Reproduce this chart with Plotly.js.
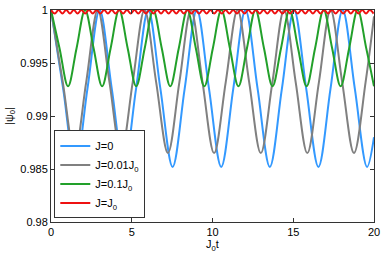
<!DOCTYPE html>
<html>
<head>
<meta charset="utf-8">
<script src="https://cdn.plot.ly/plotly-3.0.1.min.js"></script>
<style>html,body{margin:0;padding:0;background:#fff;}#chart{width:388px;height:259px;}</style>
</head>
<body>
<div id="chart"></div>
<script>
// Series names
const seriesNames = ['J=0', 'J=0.01J<sub>0</sub>', 'J=0.1J<sub>0</sub>', 'J=J<sub>0</sub>'];

// J=0 (blue)
const tBlue = [0, 0.75, 1.51, 2.26, 3.01, 3.76, 4.52, 5.27, 6.02, 6.77, 7.53, 8.28, 9.03, 9.78, 10.54, 11.29, 12.04, 12.79, 13.55, 14.30, 15.05, 15.80, 16.56, 17.31, 18.06, 18.81, 19.57, 20];
const psiBlue = [1, 0.9926, 0.9852, 0.9926, 1, 0.9926, 0.9852, 0.9926, 1, 0.9926, 0.9852, 0.9926, 1, 0.9926, 0.9852, 0.9926, 1, 0.9926, 0.9852, 0.9926, 1, 0.9926, 0.9852, 0.9926, 1, 0.9926, 0.9852, 0.9880];

// J=0.01J0 (gray)
const tGray = [0, 0.73, 1.46, 2.18, 2.90, 3.62, 4.34, 5.06, 5.79, 6.51, 7.24, 7.95, 8.67, 9.38, 10.10, 10.82, 11.55, 12.27, 12.99, 13.71, 14.43, 15.15, 15.87, 16.59, 17.31, 18.03, 18.76, 19.48, 20];
const psiGray = [1, 0.9932, 0.9865, 0.9932, 1, 0.9932, 0.9865, 0.9932, 1, 0.9932, 0.9865, 0.9932, 1, 0.9932, 0.9865, 0.9932, 1, 0.9932, 0.9865, 0.9932, 1, 0.9932, 0.9865, 0.9932, 1, 0.9932, 0.9865, 0.9932, 0.9994];

// J=0.1J0 (green)
const tGreen = [0, 0.5275, 1.055, 1.5825, 2.11, 2.6375, 3.165, 3.6925, 4.22, 4.7475, 5.275, 5.8025, 6.33, 6.8575, 7.385, 7.9125, 8.44, 8.9675, 9.495, 10.0225, 10.55, 11.0775, 11.605, 12.1325, 12.66, 13.1875, 13.715, 14.2425, 14.77, 15.2975, 15.825, 16.3525, 16.88, 17.4075, 17.935, 18.4625, 18.99, 19.5175, 20];
const psiGreen = [1, 0.9964, 0.9928, 0.9964, 1, 0.9964, 0.9928, 0.9964, 1, 0.9964, 0.9928, 0.9964, 1, 0.9964, 0.9928, 0.9964, 1, 0.9964, 0.9928, 0.9964, 1, 0.9964, 0.9928, 0.9964, 1, 0.9964, 0.9928, 0.9964, 1, 0.9964, 0.9928, 0.9964, 1, 0.9964, 0.9928, 0.9964, 1, 0.9964, 0.9928];

// J=J0 (red)
const tRed = [0, 0.235, 0.47, 0.705, 0.94, 1.175, 1.41, 1.645, 1.88, 2.115, 2.35, 2.585, 2.82, 3.055, 3.29, 3.525, 3.76, 3.995, 4.23, 4.465, 4.7, 4.935, 5.17, 5.405, 5.64, 5.875, 6.11, 6.345, 6.58, 6.815, 7.05, 7.285, 7.52, 7.755, 7.99, 8.225, 8.46, 8.695, 8.93, 9.165, 9.4, 9.635, 9.87, 10.105, 10.34, 10.575, 10.81, 11.045, 11.28, 11.515, 11.75, 11.985, 12.22, 12.455, 12.69, 12.925, 13.16, 13.395, 13.63, 13.865, 14.1, 14.335, 14.57, 14.805, 15.04, 15.275, 15.51, 15.745, 15.98, 16.215, 16.45, 16.685, 16.92, 17.155, 17.39, 17.625, 17.86, 18.095, 18.33, 18.565, 18.8, 19.035, 19.27, 19.505, 19.74, 19.975];
const psiRed = [1, 0.99966, 1, 0.99966, 1, 0.99966, 1, 0.99966, 1, 0.99966, 1, 0.99966, 1, 0.99966, 1, 0.99966, 1, 0.99966, 1, 0.99966, 1, 0.99966, 1, 0.99966, 1, 0.99966, 1, 0.99966, 1, 0.99966, 1, 0.99966, 1, 0.99966, 1, 0.99966, 1, 0.99966, 1, 0.99966, 1, 0.99966, 1, 0.99966, 1, 0.99966, 1, 0.99966, 1, 0.99966, 1, 0.99966, 1, 0.99966, 1, 0.99966, 1, 0.99966, 1, 0.99966, 1, 0.99966, 1, 0.99966, 1, 0.99966, 1, 0.99966, 1, 0.99966, 1, 0.99966, 1, 0.99966, 1, 0.99966, 1, 0.99966, 1, 0.99966, 1, 0.99966, 1, 0.99966, 1, 0.99966];

// Axis ticks
const xTicks = [0, 5, 10, 15, 20];
const yTicks = [0.98, 0.985, 0.99, 0.995, 1];
const yTickText = ['0.98', '0.985', '0.99', '0.995', '1'];

const colors = ['#3399ff', '#808080', '#22a02a', '#ee1111'];

function mk(x, y, i) {
  return {x: x, y: y, name: seriesNames[i], type: 'scatter', mode: 'lines',
    line: {color: colors[i], width: 2, shape: 'spline', smoothing: 1}};
}

const data = [mk(tBlue, psiBlue, 0), mk(tGray, psiGray, 1), mk(tGreen, psiGreen, 2), mk(tRed, psiRed, 3)];

const font = {family: 'Liberation Sans, Arial, sans-serif', size: 11, color: '#000'};

const layout = {
  width: 388, height: 259,
  margin: {l: 51, r: 14, t: 10, b: 37},
  paper_bgcolor: '#fff', plot_bgcolor: '#fff',
  font: font,
  showlegend: true,
  xaxis: {
    range: [0, 20], tickvals: xTicks, ticks: 'inside', ticklen: 4, tickcolor: '#333',
    showline: true, linecolor: '#333', linewidth: 1, mirror: 'ticks',
    showgrid: false, zeroline: false, tickfont: font,
    title: {text: 'J<sub>0</sub>t', font: font, standoff: 2}
  },
  yaxis: {
    range: [0.98, 1], tickvals: yTicks, ticktext: yTickText, ticks: 'inside', ticklen: 4, tickcolor: '#333',
    showline: true, linecolor: '#333', linewidth: 1, mirror: 'ticks',
    showgrid: false, zeroline: false, tickfont: font,
    title: {text: '|ψ<sub>0</sub>|', font: font, standoff: 4}
  },
  legend: {
    x: 0.0102, y: 0.017, xanchor: 'left', yanchor: 'bottom',
    bgcolor: '#fff', bordercolor: '#333', borderwidth: 1,
    font: font, tracegroupgap: 0, itemwidth: 30
  }
};

Plotly.newPlot('chart', data, layout, {displayModeBar: false, staticPlot: true});
</script>
</body>
</html>
